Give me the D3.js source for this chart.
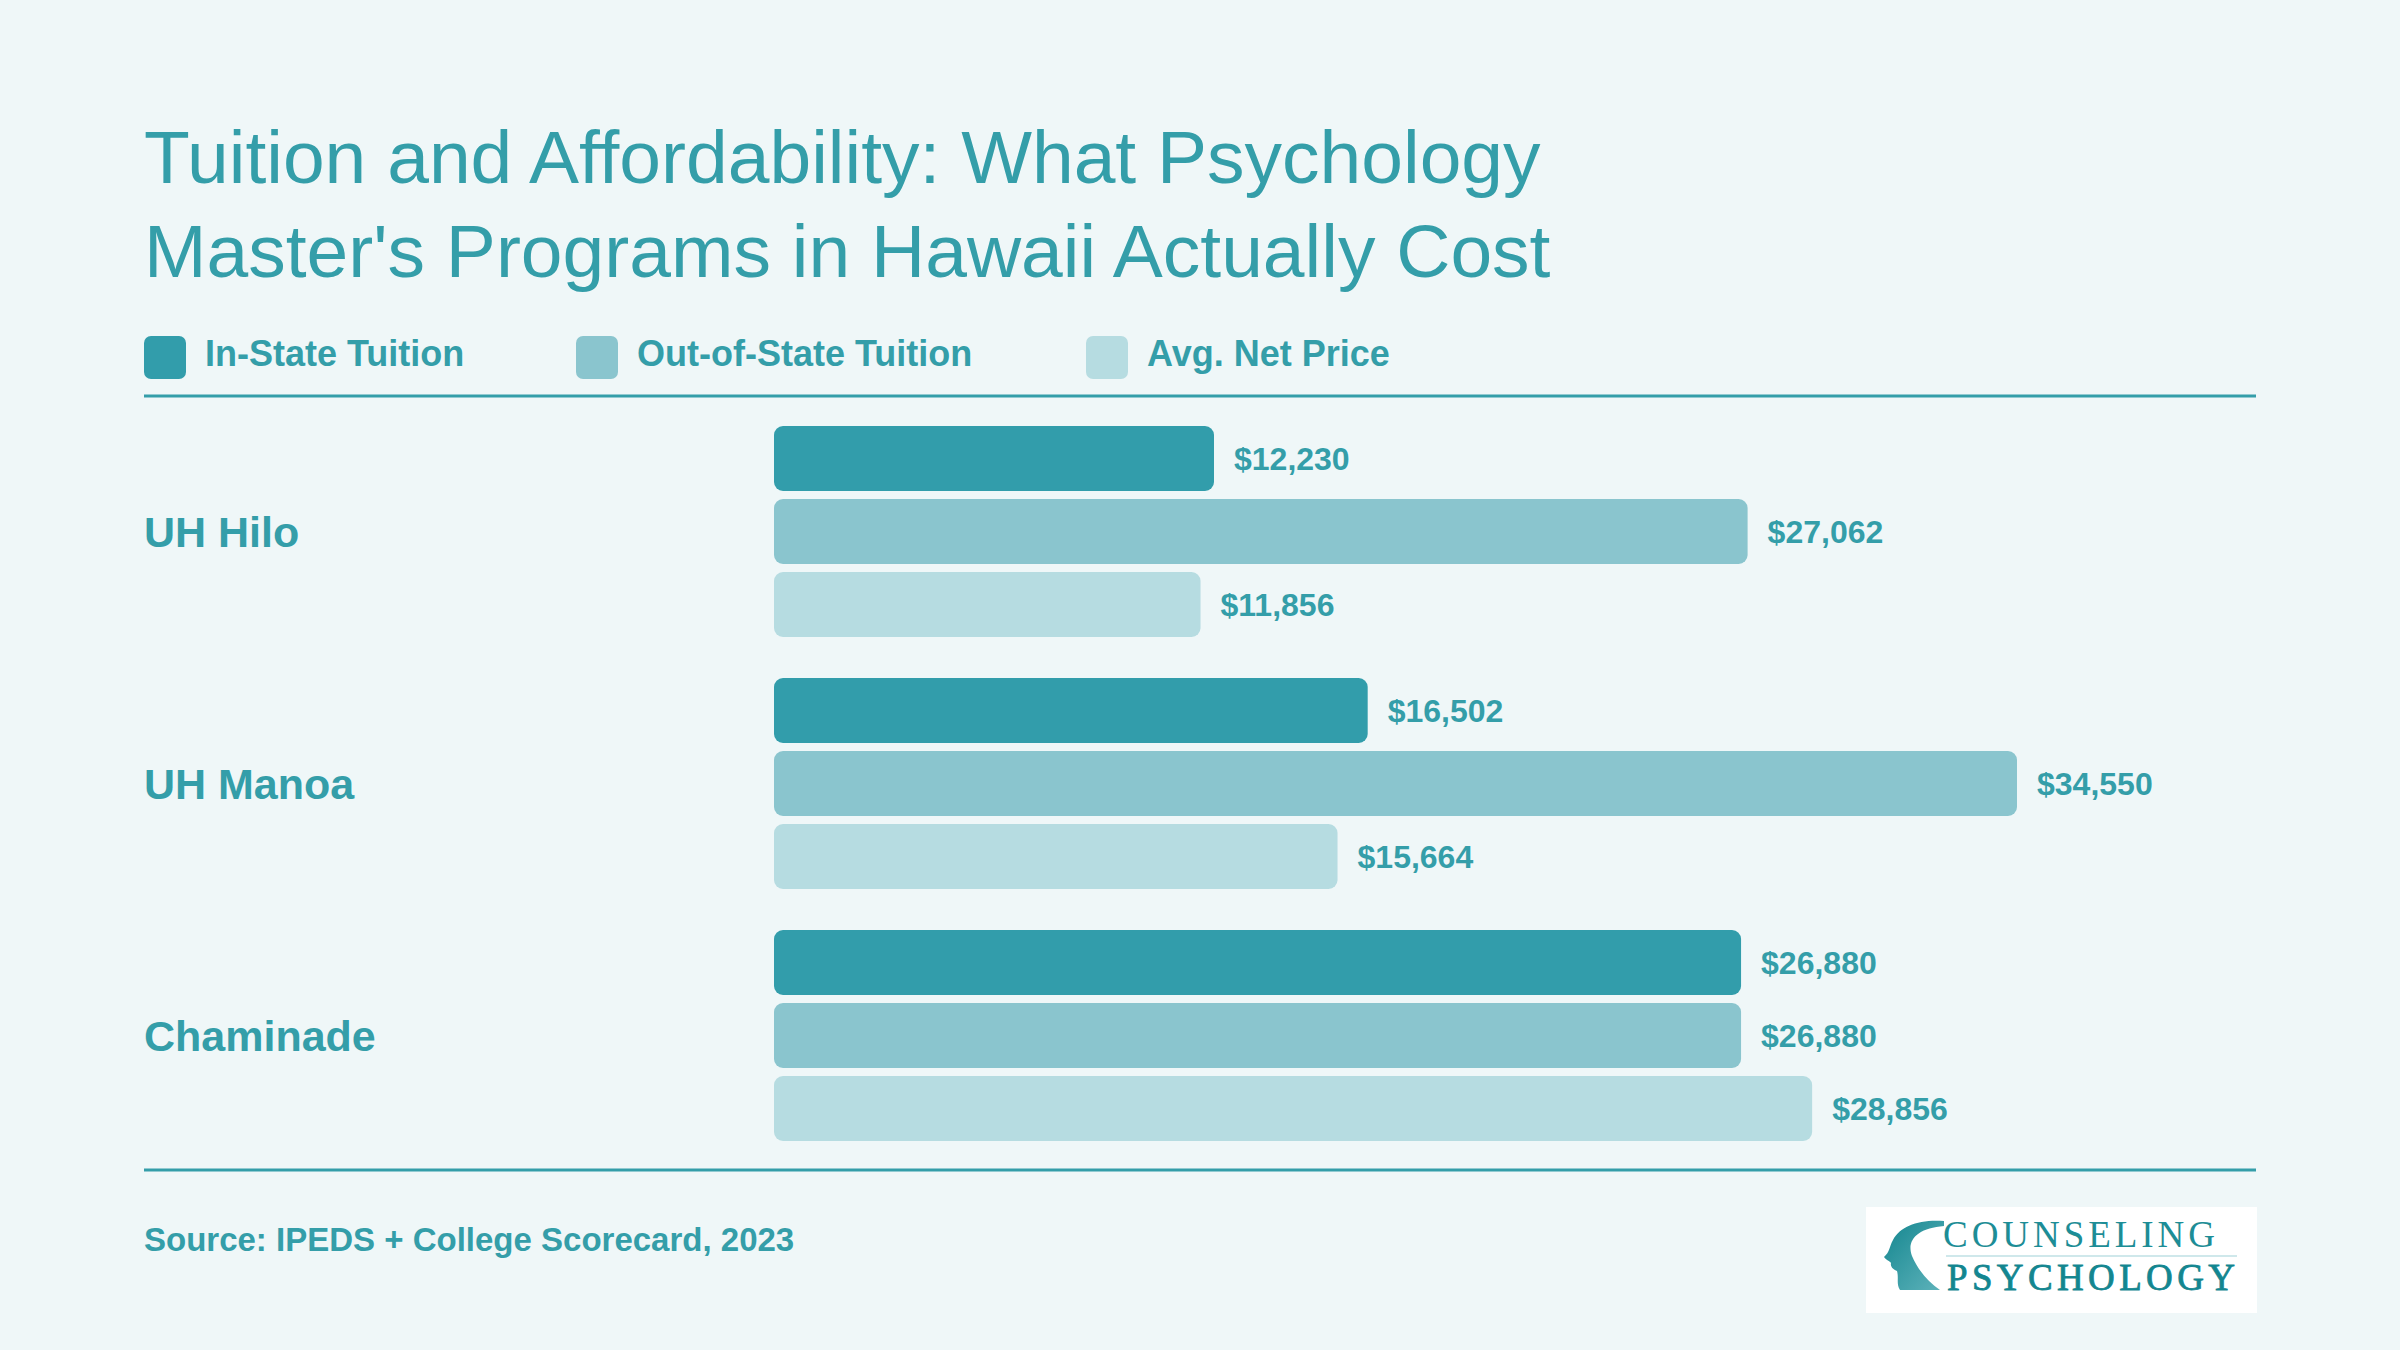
<!DOCTYPE html>
<html>
<head>
<meta charset="utf-8">
<script src="https://cdn.jsdelivr.net/npm/d3@7"></script>
<style>
  html, body { margin: 0; padding: 0; background: #eff7f8; }
  svg { display: block; font-family: "Liberation Sans", Arial, Helvetica, sans-serif; }
</style>
</head>
<body>
<div id="chart"></div>
<script>
// Data
var schools = ["UH Hilo", "UH Manoa", "Chaminade"];
var series = ["In-State Tuition", "Out-of-State Tuition", "Avg. Net Price"];
var inState = [12230, 16502, 26880];
var outState = [27062, 34550, 26880];
var netPrice = [11856, 15664, 28856];
var seriesValues = [inState, outState, netPrice];

var colors = ["#329dab", "#8ac5ce", "#b6dce1"];
var teal = "#349ea9";

var width = 2400;
var height = 1350;

var svg = d3.select("#chart")
  .append("svg")
  .attr("width", width)
  .attr("height", height);

svg.append("rect")
  .attr("width", width)
  .attr("height", height)
  .attr("fill", "#eff7f8");

// Title
var title = svg.append("text")
  .attr("x", 144)
  .attr("y", 183)
  .attr("fill", teal)
  .style("font-size", "75px");
title.append("tspan").attr("x", 144).attr("y", 183)
  .text("Tuition and Affordability: What Psychology");
title.append("tspan").attr("x", 144).attr("y", 277)
  .text("Master's Programs in Hawaii Actually Cost");

// Legend
var legendX = [144, 576, 1086];
var legend = svg.append("g").attr("class", "legend");
var items = legend.selectAll("g")
  .data(series)
  .enter().append("g")
  .attr("transform", function(d, i) { return "translate(" + legendX[i] + ",336)"; });
items.append("rect")
  .attr("width", 42)
  .attr("height", 43)
  .attr("rx", 7)
  .attr("fill", function(d, i) { return colors[i]; });
items.append("text")
  .attr("x", 61)
  .attr("y", 30)
  .attr("fill", teal)
  .style("font-size", "36px")
  .style("font-weight", "bold")
  .text(function(d) { return d; });

// Rules
svg.append("line")
  .attr("x1", 144).attr("x2", 2256)
  .attr("y1", 396).attr("y2", 396)
  .attr("stroke", teal).attr("stroke-width", 3);
svg.append("line")
  .attr("x1", 144).attr("x2", 2256)
  .attr("y1", 1170).attr("y2", 1170)
  .attr("stroke", teal).attr("stroke-width", 3);

// Scales
var x = d3.scaleLinear()
  .domain([0, d3.max(outState)])
  .range([774, 2017]);

var y0 = d3.scaleBand()
  .domain(schools)
  .range([426, 1141])
  .paddingInner(41 / 252)
  .paddingOuter(0);

var y1 = d3.scaleBand()
  .domain(series)
  .range([0, y0.bandwidth()])
  .paddingInner(8 / 73)
  .paddingOuter(0);

// Groups
var groups = svg.selectAll("g.school")
  .data(schools)
  .enter().append("g")
  .attr("class", "school")
  .attr("transform", function(d) { return "translate(0," + y0(d) + ")"; });

groups.append("text")
  .attr("x", 144)
  .attr("y", y0.bandwidth() / 2)
  .attr("dy", "0.35em")
  .attr("fill", teal)
  .style("font-size", "43px")
  .style("font-weight", "bold")
  .text(function(d) { return d; });

groups.each(function(school, si) {
  var g = d3.select(this);
  var rows = series.map(function(s, k) {
    return { series: s, value: seriesValues[k][si], color: colors[k] };
  });

  g.selectAll("rect.bar")
    .data(rows)
    .enter().append("rect")
    .attr("class", "bar")
    .attr("x", x(0))
    .attr("y", function(d) { return y1(d.series); })
    .attr("width", function(d) { return x(d.value) - x(0); })
    .attr("height", y1.bandwidth())
    .attr("rx", 9)
    .attr("fill", function(d) { return d.color; });

  g.selectAll("text.value")
    .data(rows)
    .enter().append("text")
    .attr("class", "value")
    .attr("x", function(d) { return x(d.value) + 20; })
    .attr("y", function(d) { return y1(d.series) + y1.bandwidth() / 2; })
    .attr("dy", "0.35em")
    .attr("fill", teal)
    .style("font-size", "32px")
    .style("font-weight", "bold")
    .text(function(d) { return "$" + d3.format(",")(d.value); });
});

// Source
svg.append("text")
  .attr("x", 144)
  .attr("y", 1251)
  .attr("fill", teal)
  .style("font-size", "33px")
  .style("font-weight", "bold")
  .text("Source: IPEDS + College Scorecard, 2023");

// Logo
var logo = svg.append("g").attr("class", "logo");
var defs = svg.append("defs");
var grad = defs.append("linearGradient")
  .attr("id", "head-grad")
  .attr("x1", "0%").attr("y1", "0%")
  .attr("x2", "100%").attr("y2", "100%");
grad.append("stop").attr("offset", "0%").attr("stop-color", "#14868f");
grad.append("stop").attr("offset", "100%").attr("stop-color", "#5fb3bb");

logo.append("rect")
  .attr("x", 1866).attr("y", 1207)
  .attr("width", 391).attr("height", 106)
  .attr("fill", "#ffffff");

logo.append("path")
  .attr("d", "M1944,1221 C1920,1219 1900,1226 1893,1240 C1889,1247 1890,1252 1884,1257 C1886,1260 1890,1261 1891,1263 C1890,1267 1894,1270 1897,1271 C1899,1278 1896,1284 1900,1290 L1940,1290 C1928,1282 1918,1270 1912,1256 C1906,1240 1918,1228 1944,1226 Z")
  .attr("fill", "url(#head-grad)");

logo.append("text")
  .attr("x", 1943).attr("y", 1247)
  .attr("fill", "#1d8d96")
  .style("font-family", "'Liberation Serif', 'DejaVu Serif', serif")
  .style("font-size", "37px")
  .attr("textLength", 272)
  .text("COUNSELING");

logo.append("line")
  .attr("x1", 1946).attr("x2", 2237)
  .attr("y1", 1256).attr("y2", 1256)
  .attr("stroke", "#bfe0e4").attr("stroke-width", 1.5);

logo.append("text")
  .attr("x", 1947).attr("y", 1290)
  .attr("fill", "#138690")
  .style("font-family", "'Liberation Serif', 'DejaVu Serif', serif")
  .style("font-size", "37px")
  .style("stroke", "#138690")
  .style("stroke-width", 0.8)
  .attr("textLength", 288)
  .text("PSYCHOLOGY");
</script>
</body>
</html>
